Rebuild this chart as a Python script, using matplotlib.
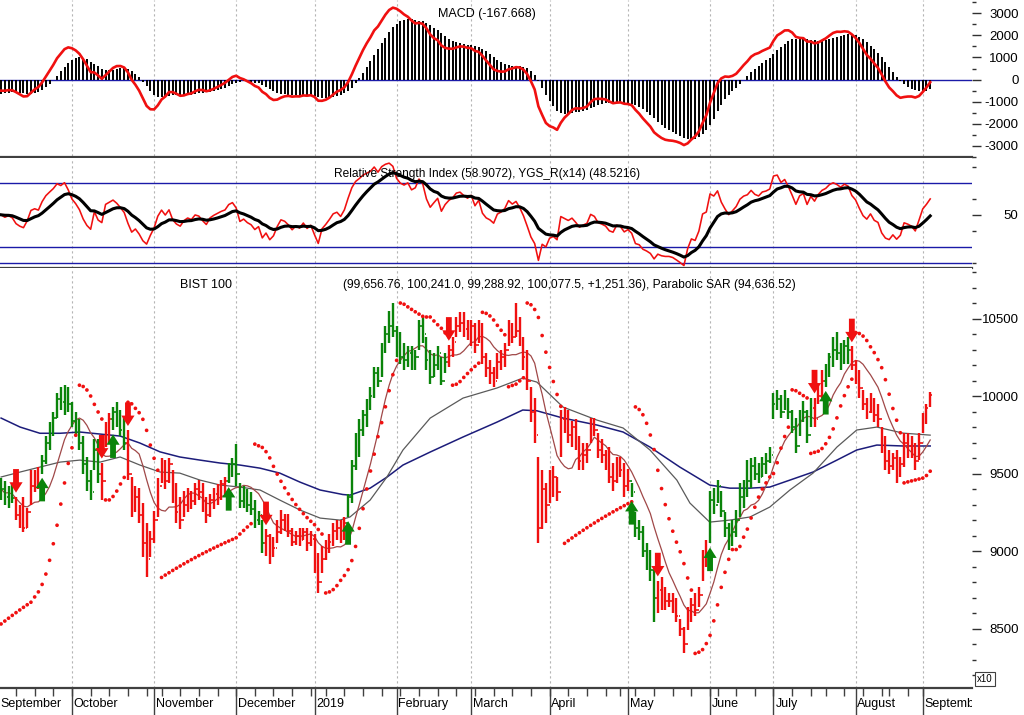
#!/usr/bin/env python3
"""BIST 100 daily chart with MACD, RSI and Parabolic SAR panels."""

import matplotlib
matplotlib.use("Agg")
import matplotlib.pyplot as plt
import numpy as np
import pandas as pd

plt.rcParams["font.family"] = ["Liberation Sans", "DejaVu Sans"]

# trading calendar (Borsa Istanbul holidays inside the window)
HOLIDAYS = ["2018-10-29", "2019-01-01", "2019-04-23", "2019-05-01", "2019-06-05",
            "2019-06-06", "2019-06-07", "2019-07-15", "2019-08-12", "2019-08-13",
            "2019-08-14", "2019-08-30"]
DATES = pd.bdate_range("2018-09-04", "2019-09-04", freq="C", holidays=HOLIDAYS)

# daily bars, index points /10
HIGH = [
    # Sep
    9470, 9450, 9420, 9430, 9350, 9300, 9350, 9280, 9520, 9520, 9540, 9620, 9740, 9830, 9900, 10020, 10060, 10070, 10060,
    # Oct
    9960, 9900, 9850, 9740, 9610, 9520, 9720, 9720, 9570, 9830, 9890, 9930, 9960, 9910, 9870, 9780, 9480, 9420, 9410, 9310, 9180, 9130,
    # Nov
    9260, 9470, 9600, 9590, 9600, 9520, 9440, 9350, 9390, 9410, 9390, 9440, 9460, 9440, 9350, 9370, 9410, 9430, 9460, 9480, 9570, 9600,
    # Dec
    9690, 9440, 9420, 9400, 9380, 9330, 9260, 9200, 9140, 9110, 9090, 9200, 9265, 9240, 9240, 9150, 9130, 9150, 9150, 9150, 9130,
    # Jan
    9110, 8990, 9030, 9070, 9110, 9180, 9200, 9200, 9220, 9370, 9590, 9760, 9850, 9910, 9980, 10060, 10190, 10190, 10340, 10450, 10550, 10600,
    # Feb
    10450, 10410, 10340, 10320, 10320, 10300, 10490, 10510, 10380, 10300, 10280, 10320, 10250, 10280, 10330, 10380, 10510, 10540, 10540, 10490,
    # Mar
    10490, 10470, 10490, 10470, 10280, 10230, 10190, 10280, 10300, 10340, 10490, 10470, 10600, 10510, 10380, 10300, 10060, 9990, 9610, 9520, 9440,
    # Apr
    9520, 9550, 9480, 9910, 9930, 9910, 9840, 9850, 9740, 9700, 9700, 9860, 9860, 9760, 9720, 9650, 9670, 9570, 9610, 9610, 9570,
    # May
    9530, 9440, 9250, 9200, 9160, 9050, 9010, 8880, 8810, 8830, 8770, 8730, 8730, 8700, 8560, 8510, 8640, 8700, 8730, 8770, 9010, 9070,
    # Jun
    9390, 9410, 9460, 9390, 9250, 9180, 9200, 9265, 9440, 9460, 9590, 9600, 9610, 9570, 9610, 9630, 9670,
    # Jul
    10020, 10040, 10010, 10040, 9990, 9910, 9860, 9910, 9970, 9910, 9990, 9990, 10080, 10170, 10210, 10280, 10380, 10410, 10340, 10360, 10380, 10320,
    # Aug
    10230, 10170, 10040, 9990, 10020, 9990, 9950, 9800, 9740, 9650, 9630, 9650, 9610, 9760, 9760, 9740, 9700, 9760,
    # Sep
    9890, 9950, 10024.10,
]
LOW = [
    9330, 9300, 9280, 9310, 9200, 9150, 9120, 9150, 9300, 9380, 9400, 9500, 9560, 9650, 9740, 9860, 9910, 9880, 9900,
    9800, 9750, 9650, 9500, 9390, 9330, 9520, 9440, 9330, 9670, 9700, 9780, 9800, 9740, 9650, 9460, 9220, 9250, 9180, 8960, 8830, 8960,
    9050, 9220, 9440, 9400, 9440, 9310, 9180, 9140, 9220, 9250, 9270, 9300, 9330, 9250, 9180, 9220, 9270, 9300, 9330, 9350, 9440, 9480,
    9420, 9280, 9280, 9250, 9230, 9150, 9170, 8990, 8970, 8920, 8960, 9050, 9110, 9130, 9090, 9030, 9040, 9030, 9070, 9000, 9030,
    8860, 8730, 8860, 8940, 8990, 9030, 9070, 9050, 9070, 9220, 9310, 9520, 9610, 9740, 9800, 9910, 9990, 10060, 10120, 10280, 10340, 10380,
    10250, 10210, 10170, 10190, 10170, 10170, 10300, 10340, 10170, 10080, 10120, 10170, 10070, 10150, 10190, 10250, 10380, 10410, 10380, 10360,
    10320, 10280, 10340, 10210, 10120, 10080, 10060, 10110, 10170, 10190, 10320, 10340, 10380, 10320, 10170, 10040, 9830, 9700, 9050, 9140, 9180,
    9310, 9350, 9320, 9610, 9760, 9700, 9670, 9650, 9520, 9520, 9570, 9700, 9740, 9600, 9570, 9520, 9440, 9390, 9440, 9480, 9350,
    9390, 9350, 9090, 9070, 8960, 8880, 8810, 8540, 8600, 8620, 8620, 8640, 8600, 8540, 8450, 8340, 8490, 8540, 8580, 8640, 8810, 8900,
    9050, 9240, 9310, 9220, 9090, 9010, 9030, 9090, 9220, 9280, 9350, 9410, 9460, 9440, 9480, 9500, 9570,
    9850, 9910, 9860, 9910, 9850, 9760, 9630, 9740, 9830, 9700, 9800, 9800, 9950, 9990, 10060, 10120, 10190, 10230, 10170, 10210, 10210, 10170,
    10080, 9990, 9910, 9850, 9890, 9830, 9800, 9630, 9520, 9500, 9520, 9440, 9480, 9540, 9600, 9600, 9520, 9590,
    9760, 9820, 9928.89,
]
CLOSE = [
    9400, 9350, 9380, 9340, 9230, 9180, 9150, 9250, 9420, 9450, 9430, 9580, 9700, 9780, 9860, 9980, 9960, 10030, 9950,
    9840, 9780, 9700, 9560, 9450, 9380, 9650, 9500, 9450, 9800, 9850, 9900, 9850, 9780, 9700, 9500, 9300, 9350, 9230, 9050, 8950, 9080,
    9200, 9420, 9550, 9450, 9560, 9350, 9250, 9200, 9300, 9350, 9320, 9400, 9380, 9300, 9230, 9330, 9370, 9400, 9430, 9450, 9530, 9560,
    9500, 9320, 9350, 9300, 9270, 9200, 9230, 9050, 9100, 8980, 9020, 9120, 9200, 9180, 9130, 9060, 9100, 9070, 9120, 9050, 9080,
    8950, 8800, 8950, 9000, 9060, 9130, 9150, 9100, 9180, 9350, 9550, 9700, 9780, 9880, 9940, 10000, 10150, 10100, 10300, 10400, 10450, 10420,
    10300, 10250, 10230, 10280, 10210, 10250, 10450, 10400, 10230, 10120, 10200, 10280, 10100, 10220, 10300, 10350, 10450, 10470, 10430, 10400,
    10450, 10330, 10420, 10250, 10180, 10150, 10100, 10220, 10250, 10300, 10420, 10380, 10420, 10350, 10250, 10100, 9900, 9750, 9150, 9400, 9300,
    9450, 9480, 9380, 9850, 9800, 9750, 9800, 9700, 9580, 9620, 9650, 9820, 9780, 9650, 9620, 9580, 9480, 9450, 9550, 9520, 9420,
    9450, 9380, 9150, 9120, 9000, 8950, 8880, 8700, 8750, 8700, 8680, 8680, 8650, 8580, 8500, 8400, 8550, 8650, 8620, 8720, 8950, 8980,
    9330, 9300, 9420, 9260, 9150, 9050, 9120, 9200, 9350, 9420, 9450, 9550, 9500, 9480, 9560, 9580, 9620,
    9950, 9980, 9900, 9980, 9900, 9800, 9680, 9850, 9900, 9750, 9920, 9850, 10000, 10100, 10150, 10250, 10300, 10280, 10250, 10320, 10300, 10200,
    10150, 10050, 9950, 9900, 9970, 9880, 9850, 9680, 9580, 9550, 9600, 9520, 9560, 9700, 9680, 9650, 9580, 9700,
    9850, 9920, 10007.75,
]
LAST_OPEN = 9965.68

# YGS signal arrows: (day index, +1 buy / -1 sell); bars take the colour of the last signal
SIGNALS = [(4, -1), (11, 1), (27, -1), (30, 1), (34, -1), (61, 1), (71, -1), (93, 1),
           (120, -1), (169, 1), (176, -1), (190, 1), (218, -1), (221, 1), (228, -1)]

# slow moving averages, sampled along the drawn lines (day index, value)
MA_MID_DAY = [0, 5.1, 10.4, 15.8, 21.1, 26.5, 31.9, 37.2, 42.6, 47.9, 53.3, 58.7, 64, 69.4, 74.7, 80.1,
              85.5, 90.8, 93.5, 98.9, 103.4, 107.7, 115, 123.8, 132.9, 139.8, 143.6, 150.6, 159.7, 166.7,
              173.9, 181.1, 184.6, 189.9, 195.3, 200.7, 206, 211.4, 217.6, 224, 229.3, 234.7, 241.7, 249]
MA_MID_VAL = [9478, 9510, 9542, 9574, 9587, 9574, 9607, 9555, 9510, 9503, 9458, 9426, 9413, 9394, 9329, 9265,
              9213, 9200, 9220, 9329, 9478, 9652, 9858, 9987, 10052, 10116, 10090, 9929, 9845, 9794,
              9652, 9458, 9310, 9187, 9200, 9220, 9284, 9394, 9503, 9671, 9781, 9800, 9761, 9748]
MA_SLOW_DAY = [0, 5.1, 10.4, 15.8, 21.1, 26.5, 31.9, 37.2, 42.6, 47.9, 53.3, 58.7, 64, 69.4, 74.7, 80.1,
               85.5, 91.6, 93.5, 98.9, 103.4, 107.7, 115, 123.8, 132.9, 139.8, 143.6, 150.6, 159.7, 166.7,
               173.9, 181.9, 184.6, 189.9, 195.3, 200.7, 206, 211.4, 217.6, 224, 229.3, 234.7, 241.7, 249]
MA_SLOW_VAL = [9858, 9800, 9760, 9760, 9768, 9755, 9742, 9697, 9640, 9607, 9587, 9568, 9555, 9535, 9503, 9445,
               9394, 9365, 9361, 9406, 9477, 9555, 9639, 9736, 9832, 9910, 9905, 9858, 9813, 9768,
               9671, 9542, 9503, 9426, 9406, 9406, 9413, 9458, 9510, 9587, 9652, 9684, 9678, 9678]

MONTH_LABELS = {1: "2019", 2: "February", 3: "March", 4: "April", 5: "May", 6: "June", 7: "July",
                8: "August", 9: "September", 10: "October", 11: "November", 12: "December"}

# indicator state carried in from before the first visible bar (MACD, signal at day 0)
MACD_START = -500.0
SIGNAL_START = -650.0

RED = "#f01010"
GREEN = "#0a840a"
NAVY = "#1c1c7a"
BLUE = "#1a1aa8"
XMIN, XMAX = -0.29, 260.2


def ema(values, span, start):
    a = 2 / (span + 1)
    out = [start]
    for v in values[1:]:
        out.append(out[-1] + a * (v - out[-1]))
    return np.array(out)


def parabolic_sar(high, low, sar0, ep0, step=0.02, max_af=0.2):
    sar = np.zeros(len(high))
    sar[0] = sar0
    up, af, ep = True, step, ep0
    for i in range(1, len(high)):
        s = sar[i - 1] + af * (ep - sar[i - 1])
        if up:
            s = min(s, low[i - 1], low[max(i - 2, 0)])
            if low[i] < s:
                up, s, ep, af = False, ep, low[i], step
            elif high[i] > ep:
                ep, af = high[i], min(af + step, max_af)
        else:
            s = max(s, high[i - 1], high[max(i - 2, 0)])
            if high[i] > s:
                up, s, ep, af = True, ep, high[i], step
            elif low[i] < ep:
                ep, af = low[i], min(af + step, max_af)
        sar[i] = s
    return sar


def wilder_rsi(close, period=14, seed=60.0):
    ag = al = seed
    out = [50.0]
    for d in np.diff(close):
        ag = (ag * (period - 1) + max(d, 0)) / period
        al = (al * (period - 1) + max(-d, 0)) / period
        out.append(100 - 100 / (1 + ag / al))
    return np.array(out)


def style_panel(ax, ylim, major, minor, labels):
    for s in ("left", "top", "right"):
        ax.spines[s].set_visible(False)
    ax.spines["bottom"].set_color("#404040")
    ax.spines["bottom"].set_linewidth(1.6)
    ax.set_xlim(XMIN, XMAX)
    ax.set_ylim(*ylim)
    ax.yaxis.tick_right()
    ax.set_yticks(major, labels=labels)
    ax.set_yticks(minor, minor=True)
    ax.tick_params(axis="y", which="major", length=6.5, width=1, color="#303030", pad=27, labelsize=9.5)
    ax.tick_params(axis="y", which="minor", length=3, width=1, color="#303030")
    ax.tick_params(axis="x", which="both", bottom=False, labelbottom=False)
    for lab in ax.get_yticklabels():
        lab.set_horizontalalignment("right")
    ax.vlines(MONTH_IDX, ylim[0], ylim[1], colors="#b4b4b4", linestyles=(0, (2, 2.5)), lw=0.8, zorder=0)


high = np.array(HIGH, dtype=float)
low = np.array(LOW, dtype=float)
close = np.array(CLOSE, dtype=float)
n = len(close)
assert n == len(high) == len(low) == len(DATES) == 250
x = np.arange(n)
opens = np.r_[close[0], close[:-1]]
opens[-1] = LAST_OPEN

state = np.ones(n, dtype=int)
for d, s in SIGNALS:
    state[d:] = s
bar_colors = np.where(state > 0, GREEN, RED)

month = DATES.month
MONTH_IDX = [i for i in range(1, n) if month[i] != month[i - 1]]
week = DATES.isocalendar().week.values
WEEK_IDX = [i for i in range(1, n) if week[i] != week[i - 1]]

# indicators
ma_fast = pd.Series(close).rolling(10, min_periods=1).mean()
sar = parabolic_sar(high, low, sar0=8530, ep0=high[0])
real = close * 10
macd = ema(real, 12, real[0]) - ema(real, 26, real[0] - MACD_START)
signal = ema(macd, 9, SIGNAL_START)
rsi = wilder_rsi(close)
rsi_smooth = pd.Series(rsi).ewm(span=10, adjust=False).mean()

fig = plt.figure(figsize=(10.24, 7.15), dpi=100)
W = 972 / 1024
ax_macd = fig.add_axes([0, 1 - 157 / 715, W, 157 / 715])
ax_rsi = fig.add_axes([0, 1 - 268 / 715, W, 110 / 715])
ax = fig.add_axes([0, 1 - 688 / 715, W, 420 / 715])
ax_d = fig.add_axes([0, 0, W, 27 / 715])

# MACD panel
style_panel(ax_macd, (-3470, 3600), list(range(-3000, 3001, 1000)),
            [v for v in range(-3500, 3501, 500) if v % 1000], [str(v) for v in range(-3000, 3001, 1000)])
ax_macd.axhline(0, color=BLUE, lw=1.0, zorder=1)
ax_macd.vlines(x, 0, signal, colors="black", lw=1.4, zorder=2)
ax_macd.plot(x, macd, color=RED, lw=1.9, zorder=3)
ax_macd.text(0.501, 0.91, "MACD (-167.668)", transform=ax_macd.transAxes, ha="center", va="center", fontsize=9)

# RSI panel
style_panel(ax_rsi, (16.75, 85.5), [50], [20, 40, 60, 80], ["50"])
for lvl in (70, 30, 20):
    ax_rsi.axhline(lvl, color=BLUE, lw=1.0, zorder=1)
ax_rsi.plot(x, rsi, color=RED, lw=1.15, zorder=2)
ax_rsi.plot(x, rsi_smooth, color="black", lw=2.2, zorder=3)
ax_rsi.text(0.501, 0.855, "Relative Strength Index (58.9072), YGS_R(x14) (48.5216)",
            transform=ax_rsi.transAxes, ha="center", va="center", fontsize=8.55)

# price panel
style_panel(ax, (8117, 10826), [8500, 9000, 9500, 10000, 10500],
            [v for v in range(8200, 10801, 100) if v % 500], ["8500", "9000", "9500", "10000", "10500"])
ax.plot(MA_SLOW_DAY, MA_SLOW_VAL, color=NAVY, lw=1.1, zorder=2)
ax.plot(MA_MID_DAY, MA_MID_VAL, color="#5a5a5a", lw=0.9, zorder=2)
ax.plot(x, ma_fast, color="#a04848", lw=0.9, zorder=2)
ax.vlines(x, low, high, colors=bar_colors, lw=1.7, zorder=3)
ax.hlines(close, x, x + 0.45, colors=bar_colors, lw=1.2, zorder=3)
ax.hlines(opens, x - 0.45, x, colors=bar_colors, lw=1.2, zorder=3)
ax.scatter(x, sar, s=7, color=RED, edgecolors="none", zorder=4)
for d, s in SIGNALS:
    tip, off, col = ((d, low[d]), (0, -20), GREEN) if s > 0 else ((d, high[d]), (0, 20), RED)
    ax.annotate("", xy=tip, xytext=off, textcoords="offset points", zorder=5,
                arrowprops=dict(arrowstyle="simple,head_length=0.75,head_width=0.95,tail_width=0.42",
                                fc=col, ec="none", shrinkA=0, shrinkB=3))
ax.text(180 / 972, 0.96, "BIST 100", transform=ax.transAxes, ha="left", va="center", fontsize=9)
ax.text(343 / 972, 0.96, "(99,656.76, 100,241.0, 99,288.92, 100,077.5, +1,251.36), Parabolic SAR (94,636.52)",
        transform=ax.transAxes, ha="left", va="center", fontsize=8.65)

# date strip
ax_d.set_xlim(XMIN, XMAX)
ax_d.set_ylim(0, 1)
ax_d.axis("off")
ax_d.vlines(MONTH_IDX, 0, 1, colors="#404040", lw=1.0)
ax_d.vlines(WEEK_IDX, 1 - 8 / 27, 1, colors="#404040", lw=1.0)
ax_d.text(XMIN + 0.1, 0.4, MONTH_LABELS[month[0]], ha="left", va="center", fontsize=9, clip_on=True)
for i in MONTH_IDX:
    ax_d.text(i + 0.5, 0.4, MONTH_LABELS[month[i]], ha="left", va="center", fontsize=9, clip_on=True)

fig.text(985 / 1024, 1 - 679 / 715, "x10", ha="center", va="center", fontsize=7,
         bbox=dict(boxstyle="square,pad=0.2", fc="white", ec="#404040", lw=0.8))

fig.savefig("out.png", dpi=100)
